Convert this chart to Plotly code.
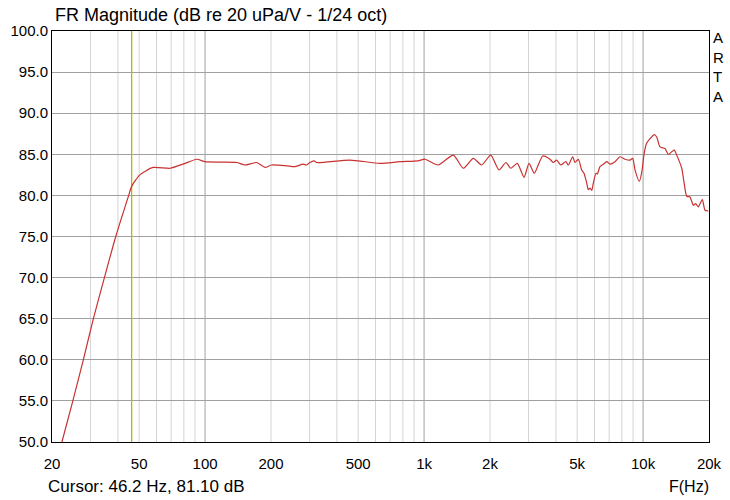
import math
import plotly.graph_objects as go

# Frequency response
freq_hz = [22.2, 24.9, 27.8, 30.9, 34.7, 39.1, 44.8, 46.2, 50.4, 57.8, 69.2, 79.3, 91.6,
           99.9, 117, 139.5, 152, 172, 188, 201, 236, 257, 280, 291, 301, 315, 323,
           459, 629, 776, 938, 1010, 1160, 1360, 1510, 1678, 1832, 2015, 2199, 2366,
           2486, 2666, 2860, 3015, 3188, 3481, 3758, 3890, 4032, 4206, 4433, 4556,
           4772, 4889, 5062, 5245, 5374, 5530, 5624, 5724, 5828, 5926, 6095, 6180,
           6358, 6584, 6824, 7064, 7446, 7848, 8272, 8718, 8968, 9188, 9612, 9888,
           10100, 10368, 10756, 11252, 11542, 11950, 12592, 13040, 13514, 13890,
           14244, 15012, 15400, 15824, 16380, 16958, 17392, 17872, 18640, 19178, 19854]
mag_db = [50.0, 55.0, 60.0, 65.0, 70.0, 75.0, 80.0, 81.1, 82.5, 83.4, 83.3, 83.8, 84.4,
          84.1, 84.05, 84.0, 83.7, 84.0, 83.4, 83.7, 83.6, 83.5, 83.8, 83.7, 84.0, 84.2, 84.0,
          84.3, 83.9, 84.1, 84.2, 84.4, 83.7, 84.9, 83.3, 84.5, 83.7, 84.9, 83.1, 84.0,
          83.3, 83.9, 82.2, 83.9, 82.7, 84.8, 84.4, 84.0, 84.3, 83.7, 84.1, 83.7,
          84.7, 84.0, 84.4, 83.1, 82.7, 81.5, 80.7, 80.9, 80.6, 81.5, 82.7, 82.6,
          83.5, 83.8, 84.1, 83.8, 84.1, 84.7, 84.4, 84.3, 84.5, 83.1, 81.7, 83.0,
          85.0, 86.3, 86.9, 87.4, 87.1, 85.9, 85.7, 85.0, 85.3, 85.5,
          84.9, 83.3, 81.5, 79.9, 79.8, 78.8, 79.0, 78.6, 79.5, 78.2, 78.1]

cursor_hz = 46.2
cursor_db = 81.10

x_tick_vals = [20, 50, 100, 200, 500, 1000, 2000, 5000, 10000, 20000]
x_tick_text = ["20", "50", "100", "200", "500", "1k", "2k", "5k", "10k", "20k"]
minor_grid_hz = [30, 40, 50, 60, 70, 80, 90, 200, 300, 400, 500, 600, 700, 800, 900,
                 2000, 3000, 4000, 5000, 6000, 7000, 8000, 9000]
major_grid_hz = [100, 1000, 10000]
y_tick_vals = [50, 55, 60, 65, 70, 75, 80, 85, 90, 95, 100]
y_tick_text = [f"{v:.1f}" for v in y_tick_vals]

FONT = "Arial, Liberation Sans, sans-serif"

fig = go.Figure()

# cursor line
fig.add_trace(go.Scatter(x=[cursor_hz, cursor_hz], y=[50, 100], mode="lines",
                         line=dict(color="#b8b800", width=1.3), hoverinfo="skip",
                         showlegend=False))

fig.add_trace(go.Scatter(x=freq_hz, y=mag_db, mode="lines",
                         line=dict(color="#c83232", width=1.2, shape="spline", smoothing=0.6),
                         showlegend=False))

shapes = []
for f in minor_grid_hz:
    shapes.append(dict(type="line", xref="x", yref="paper", x0=f, x1=f, y0=0, y1=1,
                       line=dict(color="#d4d4d4", width=1), layer="below"))
for f in major_grid_hz:
    shapes.append(dict(type="line", xref="x", yref="paper", x0=f, x1=f, y0=0, y1=1,
                       line=dict(color="#a0a0a0", width=1), layer="below"))

fig.update_layout(
    width=730, height=500,
    margin=dict(l=52, r=21, t=31, b=58),
    paper_bgcolor="white", plot_bgcolor="white",
    font=dict(family=FONT, size=15, color="black"),
    shapes=shapes,
    xaxis=dict(type="log", range=[math.log10(20), math.log10(20000)],
               tickvals=x_tick_vals, ticktext=x_tick_text, showgrid=False,
               showline=True, linecolor="black", linewidth=1, mirror=True,
               ticks="", zeroline=False, tickfont=dict(size=15), automargin=False,
               ticklabelstandoff=8),
    yaxis=dict(range=[50, 100], tickvals=y_tick_vals, ticktext=y_tick_text,
               showgrid=True, gridcolor="#a0a0a0", gridwidth=1,
               showline=True, linecolor="black", linewidth=1, mirror=True,
               ticks="", zeroline=False, tickfont=dict(size=15), automargin=False),
    annotations=[
        dict(text="FR Magnitude (dB re 20 uPa/V - 1/24 oct)", xref="paper", yref="paper",
             x=(53 - 52) / 657, y=(442 - 15) / 411, xanchor="left", yanchor="middle",
             showarrow=False, font=dict(size=18)),
        dict(text=f"Cursor: {cursor_hz} Hz, {cursor_db:.2f} dB", xref="paper", yref="paper",
             x=(46 - 52) / 657, y=(442 - 486) / 411, xanchor="left", yanchor="middle",
             showarrow=False, font=dict(size=17)),
        dict(text="F(Hz)", xref="paper", yref="paper",
             x=(711 - 52) / 657, y=(442 - 486) / 411, xanchor="right", yanchor="middle",
             showarrow=False, font=dict(size=16)),
    ] + [
        dict(text=ch, xref="paper", yref="paper", x=(711 - 52) / 657, y=(442 - yc) / 411,
             xanchor="left", yanchor="middle", showarrow=False, font=dict(size=15))
        for ch, yc in zip("ARTA", [37.5, 57, 76.5, 96])
    ],
)

fig.write_html("out.html", config={"displayModeBar": False},
               post_script="document.body.style.margin='0px';document.body.style.overflow='hidden';")
